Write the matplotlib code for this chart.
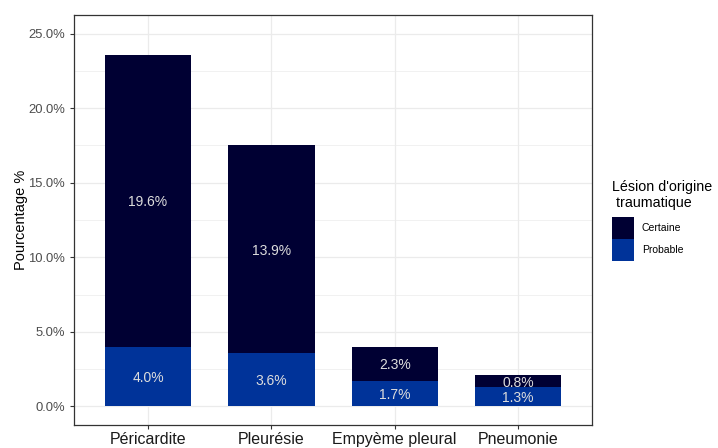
import numpy as np
import matplotlib
matplotlib.use('Agg')
from matplotlib import pyplot as plt
from matplotlib.patches import Patch
from matplotlib.ticker import MultipleLocator, FuncFormatter

plt.rcParams['font.family'] = ['Liberation Sans', 'DejaVu Sans']

categories = ['Péricardite', 'Pleurésie', 'Empyème pleural', 'Pneumonie']
probable = [4.0, 3.6, 1.7, 1.3]
certaine = [19.6, 13.9, 2.3, 0.8]
series_names = ['Certaine', 'Probable']
colors = {'Certaine': '#000033', 'Probable': '#003399'}


def main():
    fig = plt.figure(figsize=(7.18, 4.48), dpi=100)
    ax = fig.add_axes([74 / 718, 23 / 448, 518 / 718, 410 / 448])

    x = np.arange(len(categories))
    prob = np.array(probable)
    cert = np.array(certaine)

    ax.bar(x, prob, width=0.7, color=colors['Probable'], zorder=3)
    ax.bar(x, cert, width=0.7, bottom=prob, color=colors['Certaine'], zorder=3)

    # etiquettes au centre de chaque segment
    for i in range(len(categories)):
        ax.text(x[i], prob[i] / 2, '%.1f%%' % prob[i], ha='center', va='center_baseline',
                color='#dddddd', fontsize=10, zorder=4)
        ax.text(x[i], prob[i] + cert[i] / 2, '%.1f%%' % cert[i], ha='center',
                va='center_baseline', color='#dddddd', fontsize=10, zorder=4)

    ax.set_xlim(-0.6, len(categories) - 0.4)
    ax.set_ylim(-1.25, 26.25)
    ax.yaxis.set_major_locator(MultipleLocator(5))
    ax.yaxis.set_minor_locator(MultipleLocator(2.5))
    ax.yaxis.set_major_formatter(FuncFormatter(lambda v, p: '%.1f%%' % v))
    ax.set_xticks(x)
    ax.set_xticklabels(categories)

    ax.grid(which='major', color='#ebebeb', linewidth=0.9, zorder=0)
    ax.grid(which='minor', axis='y', color='#ebebeb', linewidth=0.5, zorder=0)
    ax.set_axisbelow(True)
    for s in ax.spines.values():
        s.set_color('#333333')
        s.set_linewidth(0.9)
    ax.tick_params(which='major', length=3, color='#333333', labelsize=9.4,
                   labelcolor='#4d4d4d', width=0.8)
    ax.tick_params(axis='x', labelsize=11.5, labelcolor='#1a1a1a', pad=2)
    ax.tick_params(which='minor', length=0)

    ax.set_ylabel('Pourcentage %', fontsize=10.5, color='black', labelpad=0)

    handles = [Patch(facecolor=colors[n], edgecolor='none') for n in series_names]
    leg = fig.legend(handles, series_names, loc='upper left',
                     bbox_to_anchor=(612 / 718, 1 - 180 / 448),
                     frameon=False, fontsize=7.5, title="Lésion d'origine\n traumatique",
                     title_fontsize=10.3, handlelength=2.1, handleheight=2.88,
                     handletextpad=0.75, labelspacing=0.0, borderpad=0.0,
                     borderaxespad=0.0)
    leg._legend_box.align = 'left'
    leg._legend_box.sep = 5

    plt.savefig('out.png', dpi=100)


if __name__ == '__main__':
    main()
